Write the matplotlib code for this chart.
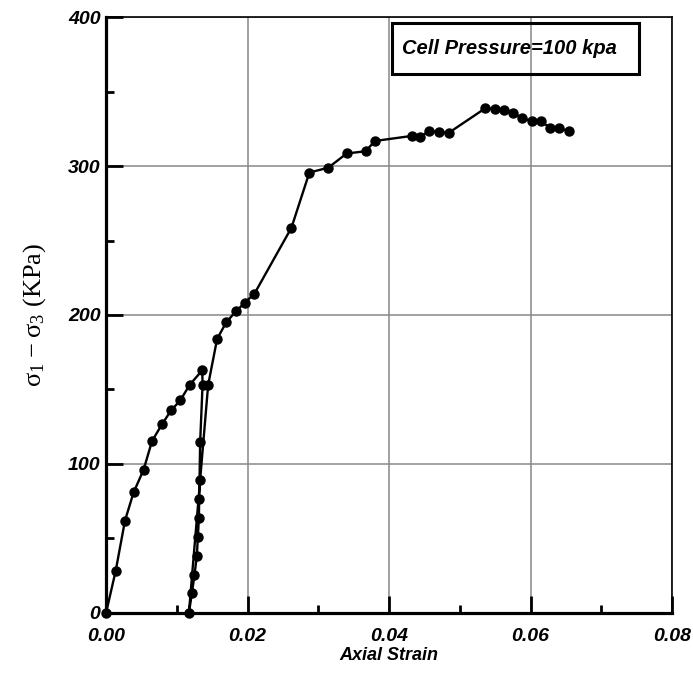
import matplotlib
matplotlib.use("Agg")
import matplotlib.pyplot as plt
from matplotlib.patches import Rectangle
from matplotlib.ticker import MultipleLocator

# Loading branch
load_strain = [0.0, 0.00137, 0.00268, 0.0039, 0.0053, 0.0065, 0.0079, 0.0092, 0.0105, 0.0118, 0.0136]
load_stress = [0.0, 28.4, 62.0, 81.0, 96.0, 115.4, 126.6, 136.0, 142.7, 153.0, 162.9]

# Unloading branch
unload_strain = [0.01364, 0.0133, 0.01321, 0.01316, 0.01312, 0.01298, 0.01283, 0.0125, 0.01213, 0.01171]
unload_stress = [153.1, 114.7, 89.4, 76.6, 63.6, 51.3, 38.3, 25.5, 13.2, 0.0]

# Reloading branch
reload_strain = [0.01443, 0.0157, 0.0170, 0.01834, 0.0196, 0.02097, 0.0262, 0.02873, 0.03141,
                 0.0340, 0.03667, 0.038, 0.0432, 0.0444, 0.0457, 0.0471, 0.0484, 0.0536,
                 0.0549, 0.0562, 0.0575, 0.0588, 0.0602, 0.0615, 0.0627, 0.0640, 0.0654]
reload_stress = [153.1, 184.0, 195.2, 202.4, 208.2, 214.3, 258.6, 295.6, 298.9,
                 308.4, 309.9, 316.8, 320.2, 319.8, 323.4, 323.1, 322.2, 338.8,
                 338.4, 337.5, 335.9, 331.9, 330.3, 329.9, 325.8, 325.4, 323.4]

xticks = [0.00, 0.02, 0.04, 0.06, 0.08]
xticklabels = ["0.00", "0.02", "0.04", "0.06", "0.08"]
yticks = [0, 100, 200, 300, 400]
yticklabels = ["0", "100", "200", "300", "400"]
box_text = "Cell Pressure=100 kpa"

strain = load_strain + unload_strain + reload_strain
stress = load_stress + unload_stress + reload_stress

fig = plt.figure(figsize=(6.93, 6.73), dpi=100)
ax = fig.add_axes([0.153, 0.0892, 0.817, 0.8855])

ax.plot(strain, stress, color="black", lw=1.7, marker="o", markersize=6.5,
        markerfacecolor="black", markeredgecolor="black", clip_on=False, zorder=5)

ax.set_xlim(0, 0.08)
ax.set_ylim(0, 400)
ax.set_xticks(xticks)
ax.set_xticklabels(xticklabels)
ax.set_yticks(yticks)
ax.set_yticklabels(yticklabels)
ax.xaxis.set_minor_locator(MultipleLocator(0.01))
ax.yaxis.set_minor_locator(MultipleLocator(50))

ax.grid(True, which="major", color="#888888", lw=1.1, zorder=0)
ax.set_axisbelow(True)

for lab in ax.get_xticklabels() + ax.get_yticklabels():
    lab.set_fontfamily("Liberation Sans")
    lab.set_fontweight("bold")
    lab.set_fontstyle("italic")
    lab.set_fontsize(14)

ax.tick_params(axis="both", which="major", direction="in", length=12.5, width=2, color="black")
ax.tick_params(axis="both", which="minor", direction="in", length=6, width=2, color="black")
ax.tick_params(axis="x", which="major", pad=11)
ax.tick_params(axis="y", which="major", pad=4)
ax.tick_params(top=False, right=False, which="both")

for s in ["left", "bottom"]:
    ax.spines[s].set_linewidth(2.3)
for s in ["top", "right"]:
    ax.spines[s].set_linewidth(1.2)

ax.set_xlabel("Axial Strain", fontfamily="Liberation Sans", fontweight="bold",
              fontstyle="italic", fontsize=13, labelpad=1)
ax.set_ylabel(r"$\mathregular{\sigma_1 - \sigma_3}$ (KPa)", fontfamily="Liberation Serif",
              fontsize=19, labelpad=14)

rect = Rectangle((0.505, 0.904), 0.437, 0.086, transform=ax.transAxes, fill=False,
                 edgecolor="black", lw=2.2, zorder=6)
ax.add_patch(rect)
ax.text(0.522, 0.947, box_text, transform=ax.transAxes, ha="left", va="center",
        fontfamily="Liberation Sans", fontweight="bold", fontstyle="italic", fontsize=14.5,
        zorder=7)

fig.savefig("out.png", dpi=100)
